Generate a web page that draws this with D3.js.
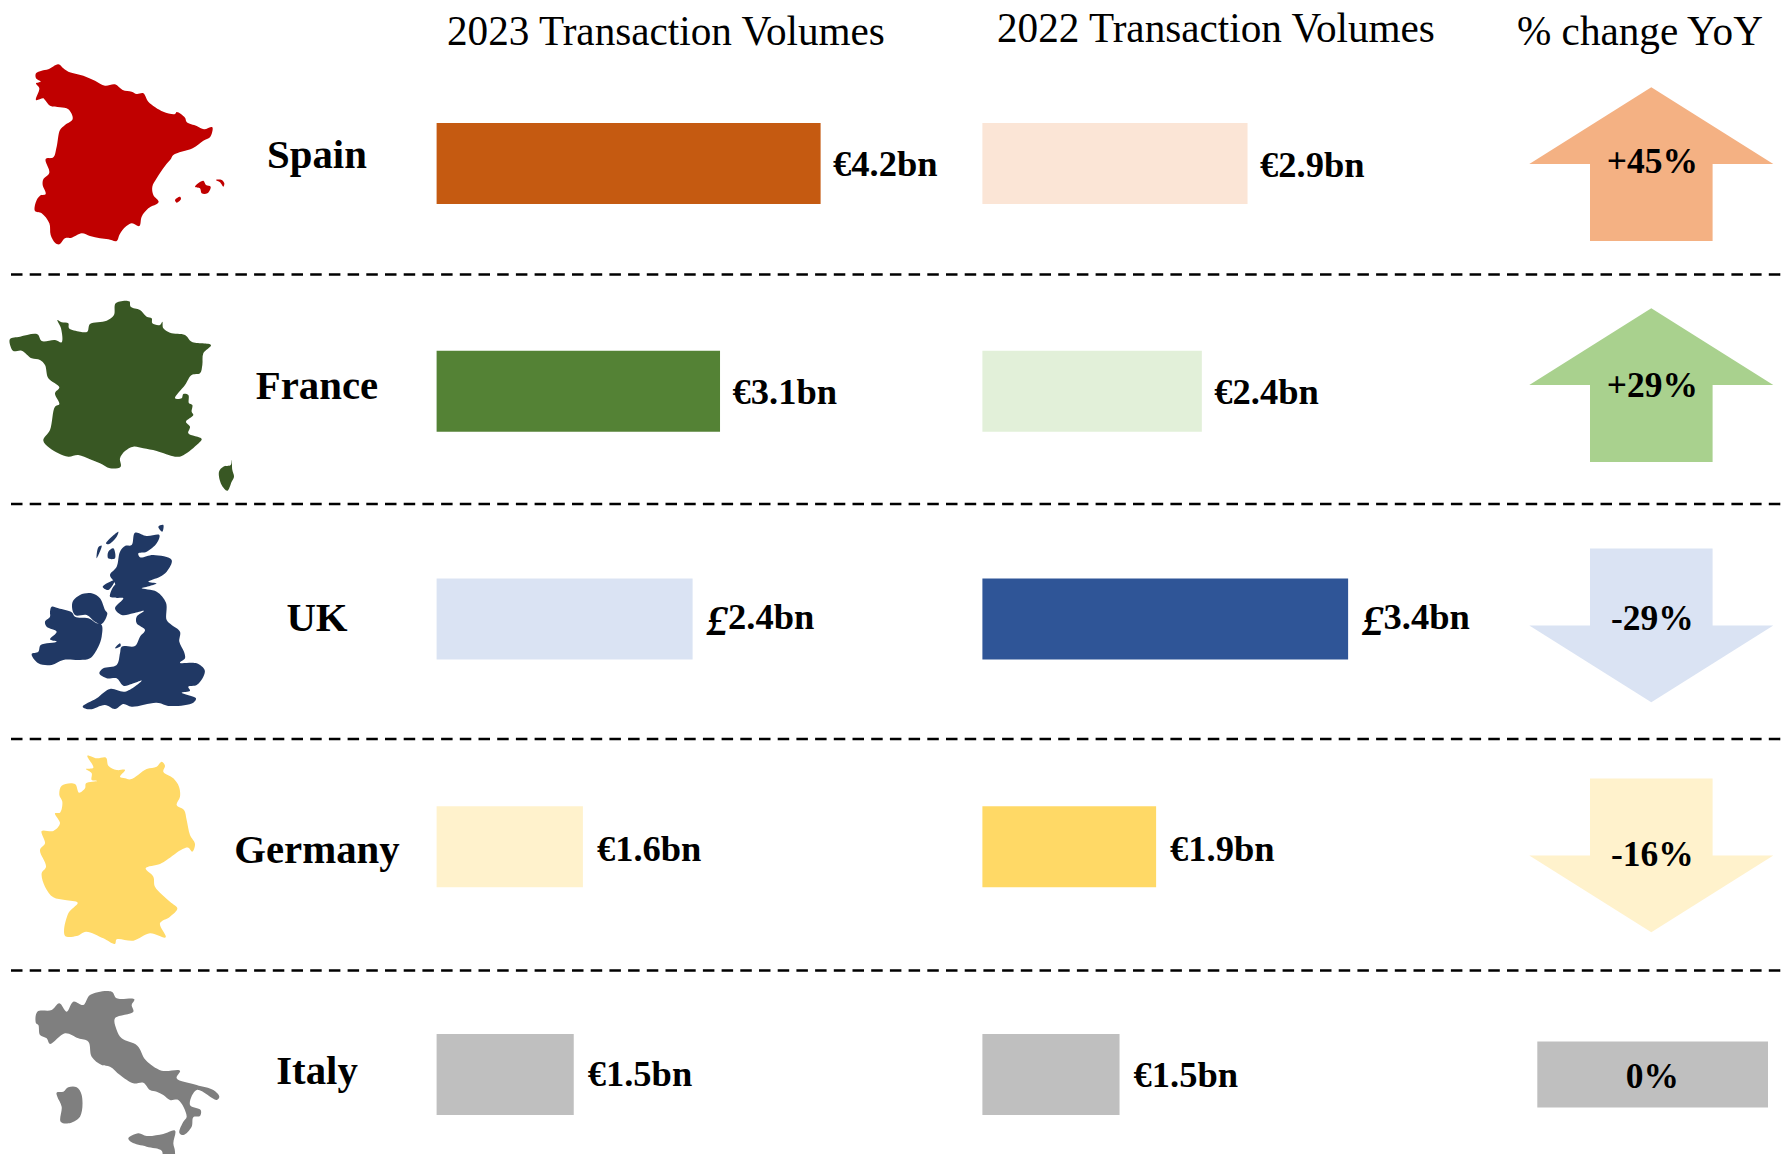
<!DOCTYPE html>
<html>
<head>
<meta charset="utf-8">
<script src="https://cdn.jsdelivr.net/npm/d3@7"></script>
<style>
html,body{margin:0;padding:0;background:#fff;overflow:hidden}
text{font-family:"Liberation Serif",serif;fill:#000}
</style>
</head>
<body>
<svg id="c" width="1787" height="1154"></svg>
<script>
// ---------- data ----------
const countries = ["Spain","France","UK","Germany","Italy"];
const headers = ["2023 Transaction Volumes","2022 Transaction Volumes","% change YoY"];
// bar lengths are in EUR-equivalent bn (UK figures are GBP converted)
const eur2023 = [4.2,3.1,2.8,1.6,1.5];
const eur2022 = [2.9,2.4,4.0,1.9,1.5];
const labels2023 = ["€4.2bn","€3.1bn","£2.4bn","€1.6bn","€1.5bn"];
const labels2022 = ["€2.9bn","€2.4bn","£3.4bn","€1.9bn","€1.5bn"];
const yoy = [45,29,-29,-16,0];
const yoyLabels = ["+45%","+29%","-29%","-16%","0%"];

// ---------- colours ----------
const fill2023 = ["#C55A11","#548235","#DAE3F3","#FFF2CC","#BFBFBF"];
const fill2022 = ["#FBE5D6","#E2F0D9","#2F5597","#FFD966","#BFBFBF"];
const arrowFill = ["#F4B183","#A9D18E","#DAE3F3","#FFF2CC","#BFBFBF"];
const mapFill = ["#C00000","#385723","#203864","#FFD966","#7F7F7F"];

// ---------- country outlines (traced, in 3x local units) ----------
const outlineSpain = [
 [[108,70],[125,62],[145,58],[175,43],[190,55],[205,65],[250,77],[285,92],[315,107],[345,103],[368,120],[395,125],[410,132],[430,130],[445,155],[490,185],[525,192],[530,186],[555,203],[560,216],[590,228],[612,238],[637,232],[630,262],[610,272],[578,295],[520,315],[512,328],[495,348],[470,385],[457,410],[460,435],[476,456],[445,475],[425,500],[418,528],[395,520],[370,537],[358,555],[350,573],[325,568],[300,565],[270,558],[245,550],[215,563],[195,565],[178,583],[165,578],[152,555],[148,520],[125,490],[105,483],[108,455],[120,437],[137,432],[128,405],[130,388],[148,368],[137,327],[160,322],[170,290],[180,240],[195,225],[218,207],[205,178],[180,172],[150,167],[135,150],[130,145],[108,150],[118,115],[108,100],[122,95],[108,85]],
 [[585,410],[610,392],[618,405],[632,410],[622,430],[605,430],[600,415]],
 [[648,390],[665,390],[673,400],[670,410],[660,397]],
 [[525,450],[540,440],[543,447],[530,458]]
];
const outlineFrance = [
 [[30,147],[60,140],[112,133],[125,153],[165,150],[185,157],[183,115],[172,90],[185,97],[205,100],[207,115],[240,125],[262,125],[270,102],[320,92],[342,75],[347,40],[388,34],[392,50],[420,60],[440,80],[455,85],[457,100],[480,105],[487,95],[490,115],[510,128],[555,135],[575,155],[633,165],[610,190],[607,225],[600,250],[575,255],[555,285],[525,325],[545,325],[550,312],[565,315],[567,340],[577,345],[575,365],[580,375],[558,395],[570,410],[565,430],[605,447],[590,465],[545,498],[525,500],[470,483],[430,475],[400,470],[375,483],[360,505],[362,530],[330,535],[300,520],[270,508],[235,495],[205,500],[175,490],[130,452],[150,420],[165,350],[178,343],[165,310],[178,292],[145,265],[135,225],[120,210],[95,205],[65,182],[40,183],[32,170]],
 [[695,510],[697,540],[702,560],[695,575],[682,602],[665,585],[657,545],[670,530],[692,525]]
];
const outlineUK = [
 [[405,68],[440,78],[478,75],[470,100],[440,125],[415,130],[420,142],[460,135],[515,150],[500,185],[480,200],[445,215],[470,220],[450,228],[425,235],[470,245],[498,278],[500,330],[515,345],[540,365],[538,395],[552,425],[555,445],[540,458],[590,460],[614,480],[610,500],[590,525],[565,530],[570,542],[545,548],[588,565],[580,578],[510,588],[470,578],[395,590],[370,582],[345,597],[315,585],[270,598],[248,590],[290,565],[330,537],[375,545],[425,512],[395,522],[370,527],[350,505],[320,505],[298,490],[310,475],[350,465],[360,430],[365,410],[405,408],[420,380],[435,360],[410,340],[410,320],[432,303],[400,310],[365,315],[345,295],[370,265],[345,262],[345,220],[330,195],[350,170],[360,125],[375,108],[395,105]],
 [[155,290],[175,295],[215,307],[225,320],[265,325],[290,340],[305,345],[305,380],[295,410],[270,445],[240,450],[190,450],[155,465],[115,460],[95,432],[115,425],[122,405],[170,395],[150,388],[170,365],[140,350],[135,335],[150,320],[150,305]],
 [[217,278],[240,255],[275,250],[300,265],[315,300],[322,310],[305,342],[285,335],[260,315],[225,315]],
 [[318,100],[355,65],[350,80],[325,103]],
 [[295,112],[305,107],[290,145]],
 [[325,125],[340,115],[345,145],[325,145]],
 [[308,230],[345,210],[325,240]],
 [[330,260],[345,225],[355,240],[358,258]],
 [[475,50],[490,45],[487,65]],
 [[345,415],[360,400],[362,408]]
];
const outlineGermany = [
 [[262,32],[290,40],[318,38],[325,62],[350,75],[375,75],[360,95],[375,100],[392,103],[440,72],[470,65],[485,50],[495,62],[490,80],[520,100],[537,125],[540,155],[530,180],[552,195],[560,225],[570,270],[585,297],[577,320],[565,308],[548,312],[500,345],[480,357],[437,370],[460,395],[465,425],[510,470],[532,490],[510,515],[480,535],[497,577],[450,565],[400,587],[350,583],[345,597],[310,580],[258,560],[230,573],[195,572],[205,505],[233,473],[195,465],[160,457],[135,425],[125,385],[138,365],[120,315],[135,295],[125,258],[160,258],[180,235],[165,205],[180,203],[187,170],[178,150],[185,122],[225,117],[237,143],[255,130],[258,115],[292,108],[275,105],[275,85],[258,72],[280,68]]
];
const outlineItaly = [
 [[112,95],[155,90],[178,70],[200,95],[220,65],[250,75],[270,45],[335,35],[350,55],[403,58],[395,75],[400,95],[345,115],[350,150],[365,175],[412,197],[437,240],[485,272],[540,272],[530,295],[590,315],[640,330],[658,350],[650,360],[590,330],[570,375],[602,390],[600,408],[580,412],[575,440],[550,465],[538,458],[550,425],[560,410],[535,360],[510,360],[490,345],[470,335],[450,330],[430,308],[400,310],[360,285],[330,260],[305,255],[275,230],[265,185],[235,175],[195,160],[150,192],[140,175],[120,165],[115,135],[108,130]],
 [[170,338],[190,335],[205,322],[230,322],[245,345],[240,410],[205,430],[182,425],[185,380],[172,350]],
 [[385,475],[415,460],[440,468],[490,462],[525,452],[520,490],[525,515],[520,560],[490,540],[485,512],[440,500],[395,487]]
];
const outlines = [outlineSpain,outlineFrance,outlineUK,outlineGermany,outlineItaly];

// ---------- layout ----------
const W = 1787;
const mapTop = [50,290,510,745,980];
const colX = [436.6, 982.4];
const separators = [274.5,504,739,970.5];
const headerX = [447,997,1517];
const headerY = [44.5,41.5,44.5];
const nameX = 317, nameY = [168,399,631,863,1084];
const valY = [[175.5,404,628.5,860.5,1085.5],[176.5,404,628.5,860.5,1086.5]];
const valGap = [12.5,12.5,14,14,14];
const arrowMid = [164,385,625.5,855.5,1074.5];
const arrowCx = 1651.3;
const labelY = [172.5,396.5,629.5,865.5,1088];

const svg = d3.select("#c");
const y = d3.scaleBand().domain(countries).range([123,1115]).paddingInner(0.6444).paddingOuter(0);
const x = d3.scaleLinear().domain([0,4.2]).range([0,384]);

// headers
svg.selectAll("text.h").data(headers).join("text").attr("class","h")
  .attr("x",(d,i)=>headerX[i]).attr("y",(d,i)=>headerY[i])
  .attr("font-size",41.2).text(d=>d);

// separators
svg.selectAll("line.sep").data(separators).join("line").attr("class","sep")
  .attr("x1",11).attr("x2",W).attr("y1",d=>d).attr("y2",d=>d)
  .attr("stroke","#000").attr("stroke-width",2.6).attr("stroke-dasharray","11.5 7.2");

// maps
const gx = d3.scaleLinear().domain([0,3]).range([0,1]);
const line = d3.line().x(p=>gx(p[0])).curve(d3.curveCatmullRomClosed.alpha(0.5));
outlines.forEach((rings,i)=>{
  const gy = d3.scaleLinear().domain([0,3]).range([mapTop[i],mapTop[i]+1]);
  line.y(p=>gy(p[1]));
  svg.append("path")
    .attr("d",rings.map(r=>line(r)).join(""))
    .attr("fill",mapFill[i]);
});

// country names
svg.selectAll("text.n").data(countries).join("text").attr("class","n")
  .attr("x",nameX).attr("y",(d,i)=>nameY[i]).attr("text-anchor","middle")
  .attr("font-weight","bold").attr("font-size",40.8).text(d=>d);

// bars + value labels
[[eur2023,labels2023,fill2023],[eur2022,labels2022,fill2022]].forEach(([vals,labs,cols],k)=>{
  const g = svg.append("g");
  g.selectAll("rect").data(countries).join("rect")
    .attr("x",colX[k]).attr("y",d=>y(d)).attr("height",y.bandwidth())
    .attr("width",(d,i)=>x(vals[i])).attr("fill",(d,i)=>cols[i]);
  const t = g.selectAll("text").data(labs).join("text")
    .attr("x",(d,i)=>colX[k]+x(vals[i])+valGap[i]).attr("y",(d,i)=>valY[k][i])
    .attr("font-weight","bold").attr("font-size",36.5);
  t.filter(d=>d[0]==="£").append("tspan").attr("font-style","italic").attr("font-size",43).attr("dy",6).text("£");
  t.append("tspan").attr("dy",d=>d[0]==="£"?-6:0).text(d=>d[0]==="£"?d.slice(1):d);
});

// YoY shapes
const stemHalf = 61.3, headHalf = 122, headLen = 76.7, stemLen = 77;
const arrow = d3.line();
yoy.forEach((v,i)=>{
  const m = arrowMid[i];
  if (v===0){
    svg.append("rect").attr("x",1537.3).attr("y",m-33).attr("width",230.7).attr("height",66).attr("fill",arrowFill[i]);
    return;
  }
  const s = v>0?-1:1;
  const pts = [[arrowCx,m+s*headLen],[arrowCx+headHalf,m],[arrowCx+stemHalf,m],[arrowCx+stemHalf,m-s*stemLen],
               [arrowCx-stemHalf,m-s*stemLen],[arrowCx-stemHalf,m],[arrowCx-headHalf,m]];
  svg.append("path").attr("d",arrow(pts)+"Z").attr("fill",arrowFill[i]);
});
svg.selectAll("text.y").data(yoyLabels).join("text").attr("class","y")
  .attr("x",arrowCx+1).attr("y",(d,i)=>labelY[i]).attr("text-anchor","middle")
  .attr("font-weight","bold").attr("font-size",35.5).text(d=>d);
</script>
</body>
</html>
